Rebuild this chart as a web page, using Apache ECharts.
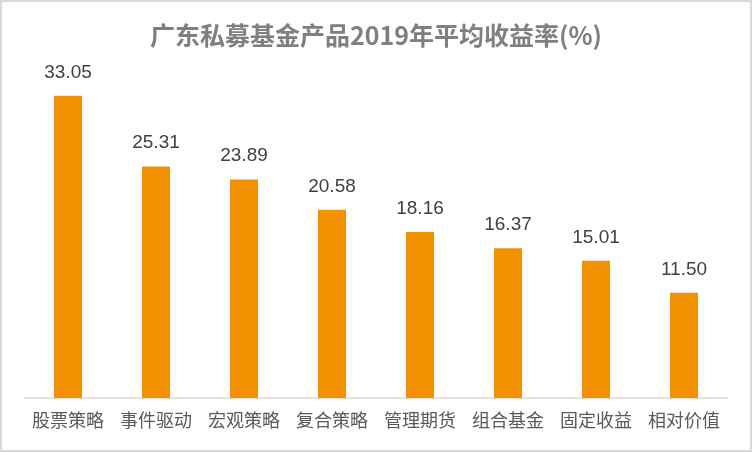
<!DOCTYPE html>
<html><head><meta charset="utf-8">
<script src="https://cdn.jsdelivr.net/npm/echarts@6/dist/echarts.min.js"></script>
<style>html,body{margin:0;padding:0;background:#fff}#c{width:752px;height:452px;box-sizing:border-box;border:2px solid #d9d9d9}</style>
</head><body><div id="c"></div>
<script>
const categories = ['股票策略','事件驱动','宏观策略','复合策略','管理期货','组合基金','固定收益','相对价值'];
const values = [33.05, 25.31, 23.89, 20.58, 18.16, 16.37, 15.01, 11.50];
const chart = echarts.init(document.getElementById('c'), null, {renderer:'canvas'});
chart.setOption({
  animation:false,
  title:{text:'广东私募基金产品2019年平均收益率(%)',left:'center',top:16,
    textStyle:{fontFamily:'Noto Sans CJK SC',fontSize:25,fontWeight:'bold',color:'#7f7f7f'}},
  grid:{left:22,right:22,top:76,bottom:52},
  xAxis:{type:'category',data:categories,
    axisLine:{lineStyle:{color:'#d9d9d9',width:1.5}},axisTick:{show:false},
    axisLabel:{interval:0,hideOverlap:false,fontFamily:'Noto Sans CJK SC',fontSize:18,color:'#595959',margin:13}},
  yAxis:{type:'value',min:0,max:35,show:false,splitLine:{show:false}},
  series:[{type:'bar',data:values,barWidth:28,itemStyle:{color:'#F39200'},
    label:{show:true,position:'top',distance:14,fontFamily:'Liberation Sans',fontSize:19,color:'#404040',
      formatter:p=>p.value.toFixed(2)}}]
});
</script></body></html>
